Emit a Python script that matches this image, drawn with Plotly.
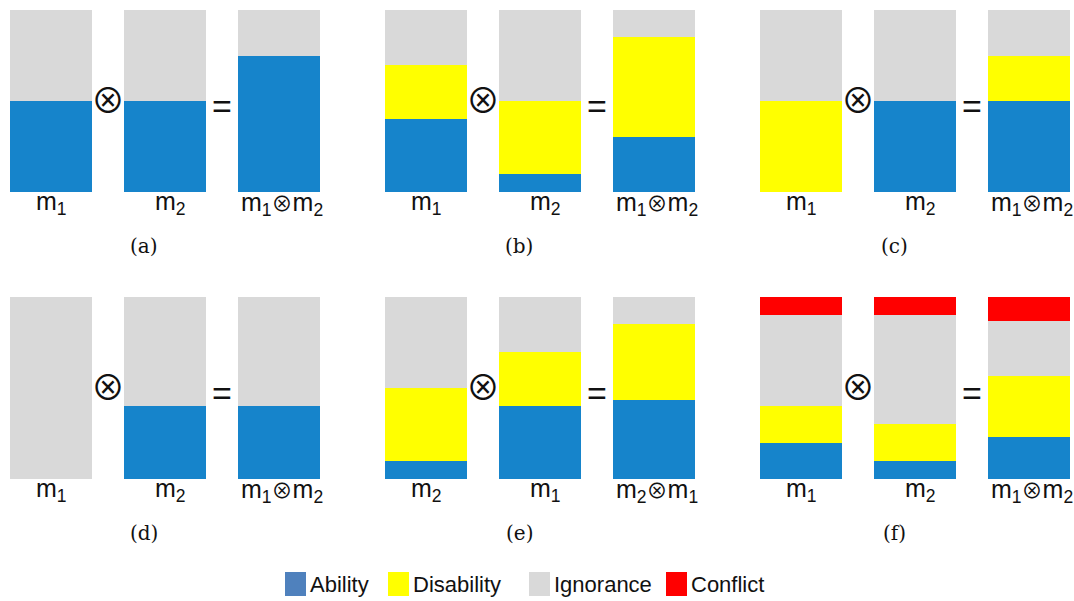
import plotly.graph_objects as go

# ---------------- data ----------------
panel_names = ["(a)", "(b)", "(c)", "(d)", "(e)", "(f)"]

bar_labels = [
    ["m<sub>1</sub>", "m<sub>2</sub>", "m<sub>1</sub>⊗m<sub>2</sub>"],
    ["m<sub>1</sub>", "m<sub>2</sub>", "m<sub>1</sub>⊗m<sub>2</sub>"],
    ["m<sub>1</sub>", "m<sub>2</sub>", "m<sub>1</sub>⊗m<sub>2</sub>"],
    ["m<sub>1</sub>", "m<sub>2</sub>", "m<sub>1</sub>⊗m<sub>2</sub>"],
    ["m<sub>2</sub>", "m<sub>1</sub>", "m<sub>2</sub>⊗m<sub>1</sub>"],
    ["m<sub>1</sub>", "m<sub>2</sub>", "m<sub>1</sub>⊗m<sub>2</sub>"],
]

ability = [
    [0.5, 0.5, 0.75],
    [0.4, 0.1, 0.3],
    [0.0, 0.5, 0.5],
    [0.0, 0.4, 0.4],
    [0.1, 0.4, 0.434],
    [0.2, 0.1, 0.233],
]
disability = [
    [0.0, 0.0, 0.0],
    [0.3, 0.4, 0.55],
    [0.5, 0.0, 0.25],
    [0.0, 0.0, 0.0],
    [0.4, 0.3, 0.416],
    [0.2, 0.2, 0.333],
]
ignorance = [
    [0.5, 0.5, 0.25],
    [0.3, 0.5, 0.15],
    [0.5, 0.5, 0.25],
    [1.0, 0.6, 0.6],
    [0.5, 0.3, 0.15],
    [0.5, 0.6, 0.3],
]
conflict = [
    [0.0, 0.0, 0.0],
    [0.0, 0.0, 0.0],
    [0.0, 0.0, 0.0],
    [0.0, 0.0, 0.0],
    [0.0, 0.0, 0.0],
    [0.1, 0.1, 0.134],
]

series_names = ["Ability", "Disability", "Ignorance", "Conflict"]

# ---------------- styles ----------------
W, H = 1074, 601
bar_colors = ["#1684CB", "#FFFF00", "#D9D9D9", "#FF0000"]
legend_colors = ["#4F81BD", "#FFFF00", "#D9D9D9", "#FF0000"]
SANS = "Liberation Sans, Arial, sans-serif"
SERIF = "DejaVu Serif, serif"
SYM = "Noto Sans CJK JP, DejaVu Sans, sans-serif"

col_left = [10, 385, 760]
panel_w = 310
row_top = [10, 297]
panel_h = 182
label_xshift = [0, 5, 3]


def px_x(p):
    return p / W


def px_y(p):
    return 1 - p / H


fig = go.Figure()
annotations = []
shapes = []
layout_axes = {}

series_values = [ability, disability, ignorance, conflict]

for k in range(6):
    r, c = divmod(k, 3)
    ax = "" if k == 0 else str(k + 1)
    xa, ya = "x" + ax, "y" + ax
    cats = ["c0", "c1", "c2"]
    for s, vals in enumerate(series_values):
        fig.add_trace(go.Bar(
            x=cats, y=vals[k], name=series_names[s],
            marker=dict(color=bar_colors[s], line=dict(width=0)),
            width=0.72, xaxis=xa, yaxis=ya, showlegend=False,
            hoverinfo="skip",
        ))
    left = col_left[c]
    top = row_top[r]
    layout_axes["xaxis" + ax] = dict(
        domain=[px_x(left), px_x(left + panel_w)], range=[-0.36, 2.36],
        anchor=ya, visible=False, fixedrange=True,
        categoryorder="array", categoryarray=cats,
    )
    layout_axes["yaxis" + ax] = dict(
        domain=[px_y(top + panel_h), px_y(top)], range=[0, 1],
        anchor=xa, visible=False, fixedrange=True,
    )
    # bar labels
    for j, lab in enumerate(bar_labels[k]):
        annotations.append(dict(
            xref=xa, yref=ya, x=j, y=0,
            text=lab.replace("⊗", "<span style='font-family:Noto Sans CJK JP;font-size:21px'>⊗</span>"),
            showarrow=False, yanchor="top", xanchor="center",
            xshift=label_xshift[j], yshift=7,
            font=dict(family=SANS, size=25, color="#111111"),
        ))
    # operators
    annotations.append(dict(
        xref=xa, yref=ya, x=0.5, y=0.516, text="⊗", showarrow=False,
        xanchor="center", yanchor="middle",
        font=dict(family=SYM, size=34, color="#111111"),
    ))
    annotations.append(dict(
        xref=xa, yref=ya, x=1.5, y=0.47, text="=", showarrow=False,
        xanchor="center", yanchor="middle",
        font=dict(family=SANS, size=34, color="#111111"),
    ))
    # panel caption
    annotations.append(dict(
        xref="paper", yref="paper",
        x=px_x(left + panel_w / 2 - 21), y=px_y(top + 236),
        text=panel_names[k], showarrow=False,
        xanchor="center", yanchor="middle",
        font=dict(family=SERIF, size=20, color="#111111"),
    ))

# manual legend
leg_sq_left = [285, 388, 529, 666]
leg_y0, leg_y1 = 572, 596
for i, name in enumerate(series_names):
    shapes.append(dict(
        type="rect", xref="paper", yref="paper",
        x0=px_x(leg_sq_left[i]), x1=px_x(leg_sq_left[i] + 21),
        y0=px_y(leg_y1), y1=px_y(leg_y0),
        fillcolor=legend_colors[i], line=dict(width=0),
    ))
    annotations.append(dict(
        xref="paper", yref="paper",
        x=px_x(leg_sq_left[i] + 23), y=px_y((leg_y0 + leg_y1) / 2),
        text=name, showarrow=False, xanchor="left", yanchor="middle",
        font=dict(family=SANS, size=22, color="#111111"),
    ))

fig.update_layout(
    width=W, height=H,
    margin=dict(l=0, r=0, t=0, b=0),
    paper_bgcolor="white", plot_bgcolor="white",
    barmode="stack", bargap=0.28,
    showlegend=False,
    annotations=annotations, shapes=shapes,
    **layout_axes,
)

fig.write_html(
    "out.html",
    config={"displayModeBar": False, "staticPlot": True},
    post_script="document.body.style.margin='0';document.body.style.overflow='hidden';",
)
